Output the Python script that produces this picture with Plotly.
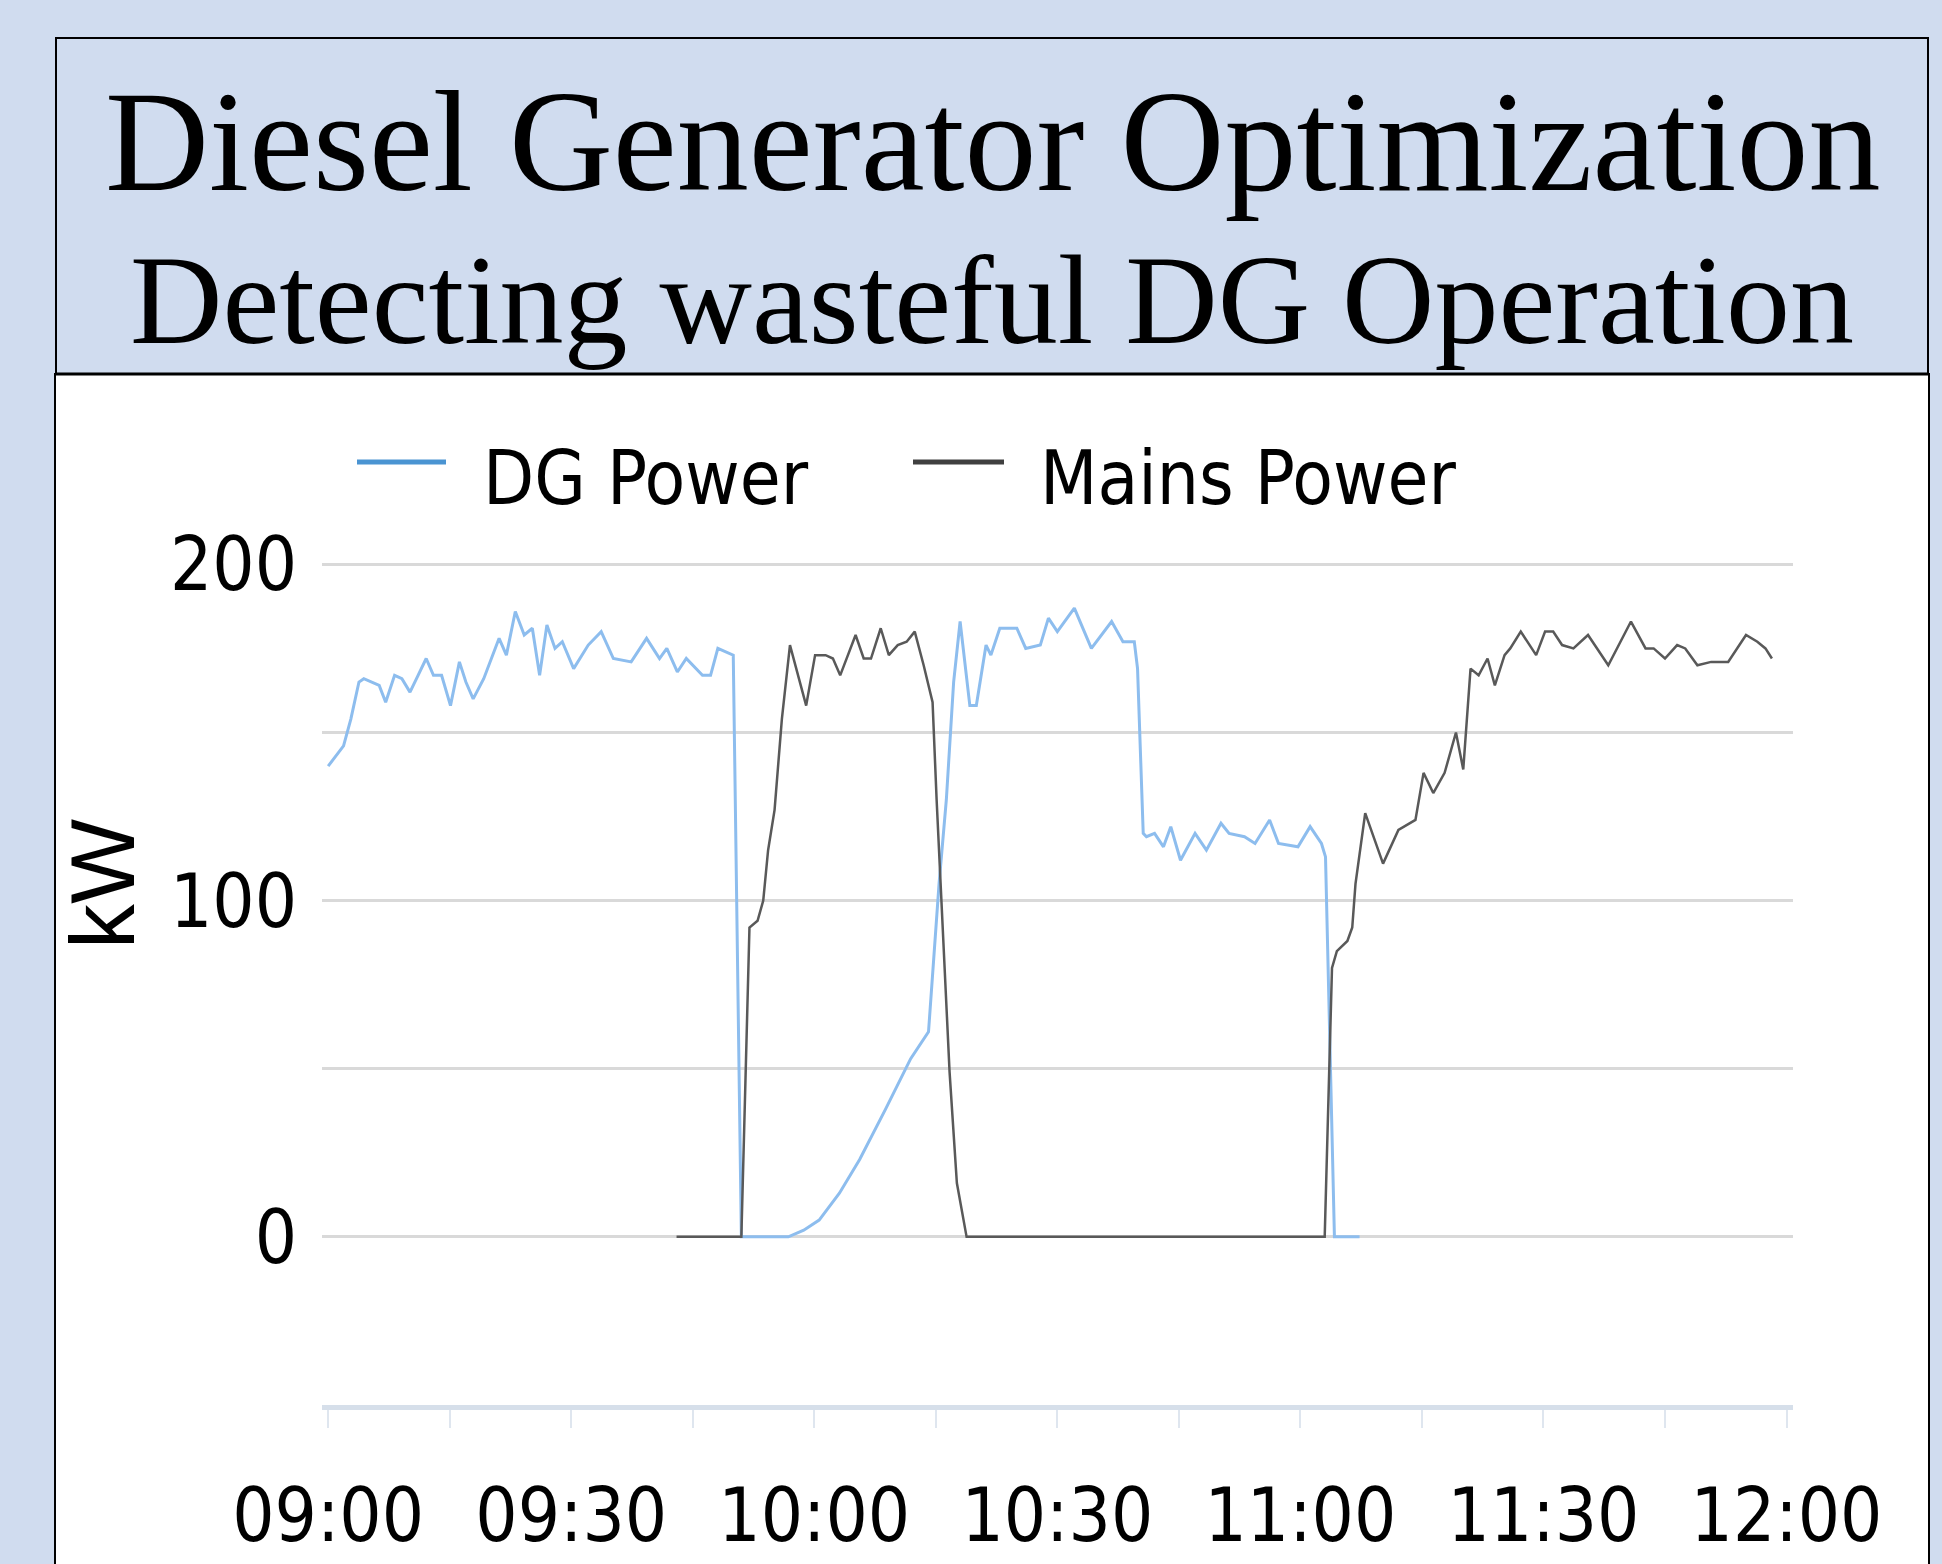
"""Diesel generator vs mains power, one morning (09:00-12:00)."""

import plotly.graph_objects as go

# minutes after 09:00 and power in kW
DG_MIN = [0, 0.9, 1.9, 2.8, 3.8, 4.4, 5.3, 6.3, 7.1, 8.2,
          9.1, 10.1, 11.1, 12.1, 13.0, 14.0, 15.1, 16.2, 17.0, 17.9,
          19.2, 20.2, 21.1, 22.0, 23.1, 24.2, 25.2, 26.1, 27.0, 28.0,
          28.9, 30.3, 32.1, 33.7, 35.2, 37.4, 39.3, 40.9, 41.8, 43.1,
          44.2, 46.2, 47.2, 48.1, 49.1, 50.0, 51.0, 56.8, 58.7, 60.6,
          63.1, 65.6, 68.8, 71.9, 74.1, 74.8, 75.4, 76.3, 77.2, 78.0,
          79.2, 80.0, 81.2, 81.8, 82.9, 85.0, 86.1, 87.9, 88.9, 90.0,
          92.1, 94.2, 96.7, 98.1, 99.5, 99.9, 100.6, 101.0, 102.0, 103.1,
          104.0, 105.2, 107.0, 108.4, 110.2, 111.2, 113.1, 114.4, 116.2, 117.3,
          119.7, 121.2, 122.6, 123.1, 124.2, 127.3]
DG_KW = [140, 143, 146, 154, 165, 166, 165, 164, 159, 167,
         166, 162, 167, 172, 167, 167, 158, 171, 165, 160,
         166, 172, 178, 173, 186, 179, 181, 167, 182, 175,
         177, 169, 176, 180, 172, 171, 178, 172, 175, 168,
         172, 167, 167, 175, 174, 173, 0, 0, 2, 5,
         13, 23, 38, 53, 61, 85, 105, 130, 165, 183,
         158, 158, 176, 173, 181, 181, 175, 176, 184, 180,
         187, 175, 183, 177, 177, 169, 120, 119, 120, 116,
         122, 112, 120, 115, 123, 120, 119, 117, 124, 117,
         116, 122, 117, 113, 0, 0]

MAINS_MIN = [43.0, 51.0, 52.0, 53.0, 53.7, 54.3, 55.1, 56.0, 57.0, 58.1,
             59.0, 60.1, 61.4, 62.3, 63.2, 65.1, 66.1, 67.0, 68.2, 69.2,
             70.3, 71.4, 72.4, 73.5, 74.6, 75.1, 75.7, 76.7, 77.6, 78.8,
             123.0, 123.9, 124.5, 125.8, 126.4, 126.8, 128.0, 130.2, 132.1, 134.2,
             135.2, 136.4, 137.8, 139.2, 140.1, 141.0, 142.0, 143.1, 144.0, 145.2,
             145.9, 147.2, 149.1, 150.2, 151.2, 152.3, 153.7, 155.5, 158.0, 160.8,
             162.6, 163.6, 165.0, 166.5, 167.5, 169.0, 170.7, 172.8, 175.0, 176.4,
             177.4, 178.2]
MAINS_KW = [0, 0, 92, 94, 100, 115, 127, 154, 176, 166,
            158, 173, 173, 172, 167, 179, 172, 172, 181, 173,
            176, 177, 180, 170, 159, 130, 100, 49, 16, 0,
            0, 80, 85, 88, 92, 105, 126, 111, 121, 124,
            138, 132, 138, 150, 139, 169, 167, 172, 164, 173,
            175, 180, 173, 180, 180, 176, 175, 179, 170, 183,
            175, 175, 172, 176, 175, 170, 171, 171, 179, 177,
            175, 172]

SERIES_NAMES = ["DG Power", "Mains Power"]
X_TICKS = [0, 15, 30, 45, 60, 75, 90, 105, 120, 135, 150, 165, 180]
X_TICK_LABELS = ["09:00", "", "09:30", "", "10:00", "", "10:30", "",
                 "11:00", "", "11:30", "", "12:00"]
Y_TICKS = [0, 50, 100, 150, 200]
Y_TICK_LABELS = ["0", "", "100", "", "200"]
TITLE_LINES = ["Diesel Generator Optimization", "Detecting wasteful DG Operation"]

W, H = 1942, 1564
L, R, T, B = 322, 1793, 561, 1405   # plot area in pixels
BG = "#d0dcef"
NARROW = "DejaVu Sans Condensed, Liberation Sans Narrow, Liberation Sans, sans-serif"
SERIF = "Liberation Serif, Times New Roman, serif"


def px(x):
    return (x - L) / (R - L)


def py(y):
    return (B - y) / (B - T)


fig = go.Figure()
fig.add_trace(go.Scatter(x=DG_MIN, y=DG_KW, mode="lines", name=SERIES_NAMES[0],
                         line=dict(color="#8dbdee", width=3), showlegend=False))
fig.add_trace(go.Scatter(x=MAINS_MIN, y=MAINS_KW, mode="lines", name=SERIES_NAMES[1],
                         line=dict(color="#595959", width=2.5), showlegend=False))

shapes = [
    # white panel below the title box
    dict(type="rect", xref="paper", yref="paper", layer="below",
         x0=px(55), x1=px(1929), y0=py(1580), y1=py(374),
         fillcolor="white", line=dict(color="black", width=2)),
    # title box
    dict(type="rect", xref="paper", yref="paper", layer="below",
         x0=px(56), x1=px(1928), y0=py(374), y1=py(38),
         fillcolor=BG, line=dict(color="black", width=2)),
    dict(type="line", xref="paper", yref="paper",
         x0=px(55), x1=px(1929), y0=py(374), y1=py(374),
         line=dict(color="black", width=3)),
    # legend samples
    dict(type="line", xref="paper", yref="paper",
         x0=px(357), x1=px(446), y0=py(462), y1=py(462),
         line=dict(color="#4a94d2", width=5)),
    dict(type="line", xref="paper", yref="paper",
         x0=px(913), x1=px(1004), y0=py(462), y1=py(462),
         line=dict(color="#404040", width=5)),
]

annotations = [
    dict(text=TITLE_LINES[0], xref="paper", yref="paper", x=px(992), y=py(142),
         xanchor="center", yanchor="middle", showarrow=False,
         font=dict(family=SERIF, size=144, color="black")),
    dict(text=TITLE_LINES[1], xref="paper", yref="paper", x=px(992), y=py(300),
         xanchor="center", yanchor="middle", showarrow=False,
         font=dict(family=SERIF, size=128, color="black")),
    dict(text=SERIES_NAMES[0], xref="paper", yref="paper", x=px(481), y=py(478),
         xanchor="left", yanchor="middle", showarrow=False,
         font=dict(family=NARROW, size=74, color="black")),
    dict(text=SERIES_NAMES[1], xref="paper", yref="paper", x=px(1038), y=py(478),
         xanchor="left", yanchor="middle", showarrow=False,
         font=dict(family=NARROW, size=74, color="black")),
    dict(text="kW", xref="paper", yref="paper", x=px(103), y=py(884),
         xanchor="center", yanchor="middle", showarrow=False, textangle=-90,
         font=dict(family="Liberation Sans, Arial, sans-serif", size=90, color="black")),
]

fig.update_layout(
    width=W, height=H,
    margin=dict(l=L, r=W - R, t=T, b=H - B, autoexpand=False),
    paper_bgcolor=BG,
    plot_bgcolor="white",
    showlegend=False,
    shapes=shapes,
    annotations=annotations,
    xaxis=dict(
        range=[-0.76, 180.8], tickvals=X_TICKS, ticktext=X_TICK_LABELS,
        showgrid=False, zeroline=False,
        showline=True, linecolor="#d6dfea", linewidth=5,
        ticks="outside", ticklen=18, tickwidth=2, tickcolor="#dfe6ef",
        ticklabelstandoff=24,
        tickfont=dict(family=NARROW, size=74, color="black"),
        fixedrange=True,
    ),
    yaxis=dict(
        range=[-50, 201], tickvals=Y_TICKS, ticktext=Y_TICK_LABELS,
        showgrid=True, gridcolor="#d9d9d9", gridwidth=3, zeroline=False,
        showline=False, ticks="", ticklabelstandoff=24,
        tickfont=dict(family=NARROW, size=74, color="black"),
        fixedrange=True,
    ),
)

fig.write_html("out.html", config=dict(displayModeBar=False),
               post_script="document.body.style.margin='0';document.body.style.overflow='hidden';")
